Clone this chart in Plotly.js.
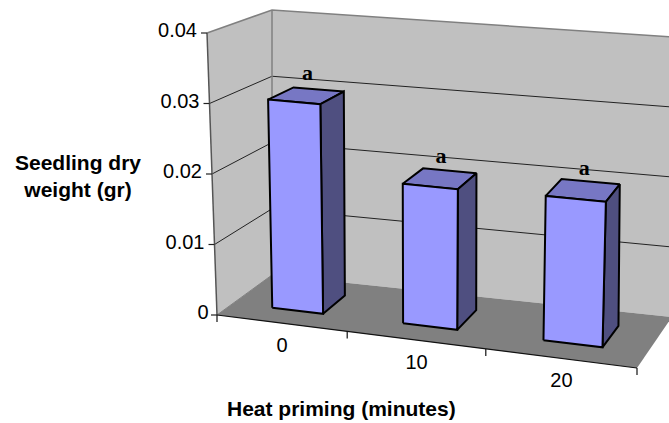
<!DOCTYPE html>
<html><head><meta charset="utf-8">
<script src="https://cdn.plot.ly/plotly-3.0.1.min.js"></script>
<style>html,body{margin:0;padding:0;background:#fff}</style></head>
<body><div id="chart" style="width:669px;height:423px"></div>
<script>
// Data
const categories = ['0', '10', '20'];
const dryWeight = [0.0299, 0.0197, 0.0200];
const letters = ['a', 'a', 'a'];
const valueTicks = [0, 0.01, 0.02, 0.03, 0.04];
const valueTickLabels = ['0', '0.01', '0.02', '0.03', '0.04'];
const xTitle = 'Heat priming (minutes)';
const yTitle = 'Seedling dry<br>weight (gr)';

// 3D box projection: corners of the plot cube on the page
const vMax = 0.04;
const cube = {
  A:[217,315], B:[637,368], C:[272,275], D:[672,317],
  E:[207,33],  F:[649,70],  G:[272,10],  H:[672,37]
};
const lerp = (p,q,t)=>[p[0]+(q[0]-p[0])*t, p[1]+(q[1]-p[1])*t];
function P(u,w,v){
  const t=v/vMax;
  const b=lerp(lerp(cube.A,cube.B,u),lerp(cube.C,cube.D,u),w);
  const a=lerp(lerp(cube.E,cube.F,u),lerp(cube.G,cube.H,u),w);
  return lerp(b,a,t);
}
const catEdges=[0,0.31,0.64,1];
const barShare=0.198, wFront=0.30, wBack=0.73;
const sans='Liberation Sans, Arial';

const traces=[];
function poly(pts,fill,lineColor,lineWidth){
  const c=pts.concat([pts[0]]);
  traces.push({type:'scatter',mode:'lines',x:c.map(p=>p[0]),y:c.map(p=>p[1]),fill:'toself',
    fillcolor:fill,line:{color:lineColor,width:lineWidth},hoverinfo:'skip',showlegend:false});
}
function line(pts,color,width){
  traces.push({type:'scatter',mode:'lines',x:pts.map(p=>p[0]),y:pts.map(p=>p[1]),
    line:{color:color,width:width},hoverinfo:'skip',showlegend:false});
}
function text(x,y,s,font){
  traces.push({type:'scatter',mode:'text',x:[x],y:[y],text:[s],textposition:'middle center',
    textfont:font,hoverinfo:'skip',showlegend:false,cliponaxis:false});
}
// walls and floor
poly([P(0,0,0),P(0,1,0),P(0,1,vMax),P(0,0,vMax)],'#c0c0c0','rgba(0,0,0,0)',0);
poly([P(0,1,0),P(1,1,0),P(1,1,vMax),P(0,1,vMax)],'#c0c0c0','rgba(0,0,0,0)',0);
poly([P(0,0,0),P(1,0,0),P(1,1,0),P(0,1,0)],'#808080','rgba(0,0,0,0)',0);
// gridlines
valueTicks.slice(1,-1).forEach(v=>line([P(0,0,v),P(0,1,v),P(1,1,v)],'#222222',1));
line([P(0,0,vMax),P(0,1,vMax),P(1,1,vMax)],'#808080',1.5);
line([P(0,1,0),P(0,1,vMax)],'#808080',1.5);
line([P(0,0,0),P(0,1,0)],'#808080',1);
// axes
line([P(0,0,vMax),P(0,0,0)],'#555555',1.5);
line([P(0,0,0),P(1,0,0)],'#111111',1.2);
valueTicks.forEach((v,i)=>{
  const p=P(0,0,v);
  line([[p[0]-6,p[1]],p],'#222222',1.2);
  text(p[0]-(i===0?14:29.5),p[1]-1,valueTickLabels[i],{family:sans,size:20,color:'#000'});
});
catEdges.forEach(u=>{const p=P(u,0,0);line([p,[p[0],p[1]+7]],'#111111',1.2);});
// bars
categories.forEach((c,i)=>{
  const m=(catEdges[i]+catEdges[i+1])/2, hb=barShare*(catEdges[i+1]-catEdges[i]);
  const l=m-hb, r=m+hb, v=dryWeight[i];
  poly([P(l,wFront,v),P(r,wFront,v),P(r,wBack,v),P(l,wBack,v)],'#7777c4','#000',2);
  poly([P(r,wFront,0),P(r,wBack,0),P(r,wBack,v),P(r,wFront,v)],'#4f4f80','#000',2);
  poly([P(l,wFront,0),P(r,wFront,0),P(r,wFront,v),P(l,wFront,v)],'#9999ff','#000',2);
  const top=P(m,(wFront+wBack)/2,v);
  text(top[0]+1,top[1]-21,letters[i],{family:'Liberation Serif, Times New Roman',size:22,color:'#000',weight:700});
  const lab=P(m,0,0);
  text(lab[0],lab[1]+24,c,{family:sans,size:20,color:'#000'});
});
const layout={width:669,height:423,margin:{l:0,r:0,t:0,b:0},paper_bgcolor:'#fff',plot_bgcolor:'#fff',showlegend:false,
  xaxis:{range:[0,669],visible:false,fixedrange:true},
  yaxis:{range:[423,0],visible:false,fixedrange:true},
  annotations:[
    {x:341,y:408,xref:'x',yref:'y',text:'<b>'+xTitle+'</b>',showarrow:false,font:{family:sans,size:21,color:'#000'}},
    {x:78,y:176,xref:'x',yref:'y',text:'<b>'+yTitle+'</b>',showarrow:false,align:'center',font:{family:sans,size:21,color:'#000'}}
  ]};
Plotly.newPlot('chart',traces,layout,{displayModeBar:false,staticPlot:true});
</script></body></html>
